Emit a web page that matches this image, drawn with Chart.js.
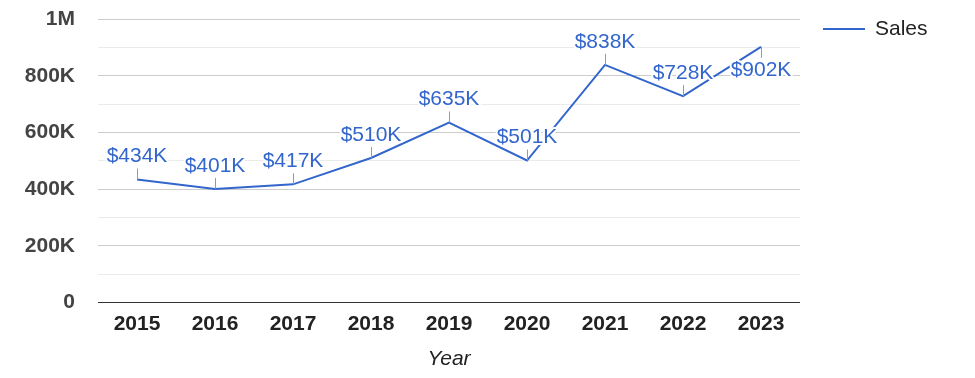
<!DOCTYPE html>
<html>
<head>
<meta charset="utf-8">
<script src="https://cdn.jsdelivr.net/npm/chart.js@4"></script>
<style>
  html, body { margin: 0; padding: 0; background: #fff; }
  #wrap { width: 975px; height: 378px; }
</style>
</head>
<body>
<div id="wrap"><canvas id="sales_chart" width="975" height="378"></canvas></div>
<script>
const years = ['2015', '2016', '2017', '2018', '2019', '2020', '2021', '2022', '2023'];
const sales = [434000, 401000, 417000, 510000, 635000, 501000, 838000, 728000, 902000];
const yTicks = [0, 200000, 400000, 600000, 800000, 1000000];
const yTickLabels = ['0', '200K', '400K', '600K', '800K', '1M'];
// where the value label sits relative to its point
const labelSide = ['up', 'up', 'up', 'up', 'up', 'up', 'up', 'up', 'down'];

const lineColor = '#3366cc';
const fontFamily = "'Liberation Sans', Arial, sans-serif";

function money(v) {
  return '$' + Math.round(v / 1000) + 'K';
}

// value labels with small leader lines, like the annotations in the picture
const annotations = {
  id: 'annotations',
  afterDatasetsDraw(chart) {
    const ctx = chart.ctx;
    const meta = chart.getDatasetMeta(0);
    ctx.save();
    ctx.font = '21px ' + fontFamily;
    ctx.textAlign = 'center';
    ctx.textBaseline = 'middle';
    meta.data.forEach((pt, i) => {
      const dir = labelSide[i] === 'down' ? 1 : -1;
      ctx.strokeStyle = '#999999';
      ctx.lineWidth = 1;
      ctx.beginPath();
      ctx.moveTo(Math.round(pt.x) + 0.5, pt.y);
      ctx.lineTo(Math.round(pt.x) + 0.5, pt.y + dir * 11);
      ctx.stroke();
    });
    meta.data.forEach((pt, i) => {
      const dir = labelSide[i] === 'down' ? 1 : -1;
      const txt = money(sales[i]);
      const ty = pt.y + dir * 23;
      ctx.lineJoin = 'round';
      ctx.strokeStyle = '#ffffff';
      ctx.lineWidth = 4;
      ctx.strokeText(txt, pt.x, ty);
      ctx.fillStyle = lineColor;
      ctx.fillText(txt, pt.x, ty);
    });
    ctx.restore();
  }
};

// legend on the right, top aligned
const sideLegend = {
  id: 'sideLegend',
  afterDraw(chart) {
    const ctx = chart.ctx;
    const x0 = chart.chartArea.right + 23;
    const y0 = 29;
    ctx.save();
    ctx.strokeStyle = lineColor;
    ctx.lineWidth = 2;
    ctx.beginPath();
    ctx.moveTo(x0, y0);
    ctx.lineTo(x0 + 42, y0);
    ctx.stroke();
    ctx.fillStyle = '#222222';
    ctx.font = '21px ' + fontFamily;
    ctx.textAlign = 'left';
    ctx.textBaseline = 'middle';
    ctx.fillText(chart.data.datasets[0].label, x0 + 52, y0);
    ctx.restore();
  }
};

const ctx = document.getElementById('sales_chart').getContext('2d');
const salesChart = new Chart(ctx, {
  type: 'line',
  data: {
    labels: years,
    datasets: [{
      label: 'Sales',
      data: sales,
      borderColor: lineColor,
      borderWidth: 2,
      pointRadius: 0,
      pointHoverRadius: 0,
      tension: 0,
      fill: false
    }]
  },
  options: {
    responsive: false,
    animation: false,
    layout: {
      padding: { top: 19, right: 175, bottom: 0, left: 0 }
    },
    plugins: {
      legend: { display: false },
      tooltip: { enabled: false }
    },
    scales: {
      x: {
        offset: true,
        grid: { display: false, drawTicks: false },
        border: { display: false },
        ticks: {
          padding: 9,
          color: '#222222',
          font: { family: fontFamily, size: 21, weight: 'bold' }
        },
        title: {
          display: true,
          text: 'Year',
          color: '#222222',
          padding: { top: 1, bottom: 6 },
          font: { family: fontFamily, size: 21, style: 'italic' }
        }
      },
      y: {
        min: 0,
        max: 1000000,
        afterFit(scale) { scale.width = 98; },
        afterBuildTicks(scale) {
          scale.ticks = [];
          for (let v = 0; v <= 1000000; v += 100000) scale.ticks.push({ value: v });
        },
        border: { display: false },
        grid: {
          drawTicks: true,
          tickLength: 23,
          tickColor: 'rgba(0,0,0,0)',
          color(c) {
            const v = c.tick.value;
            if (v === 0) return '#333333';
            return yTicks.includes(v) ? '#cccccc' : '#ebebeb';
          }
        },
        ticks: {
          autoSkip: false,
          padding: 0,
          color: '#444444',
          font: { family: fontFamily, size: 21, weight: 'bold' },
          callback(value) {
            const k = yTicks.indexOf(value);
            return k === -1 ? '' : yTickLabels[k];
          }
        }
      }
    }
  },
  plugins: [annotations, sideLegend]
});
</script>
</body>
</html>
